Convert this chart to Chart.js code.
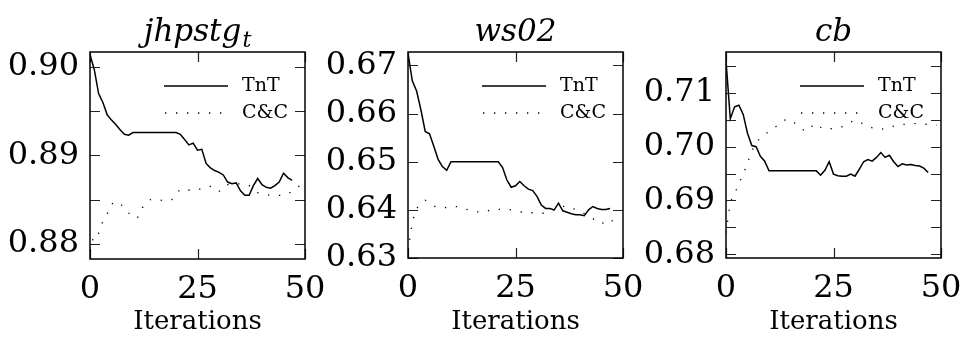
<!DOCTYPE html>
<html>
<head>
<meta charset="utf-8">
<script src="https://cdn.jsdelivr.net/npm/chart.js@4.4.1/dist/chart.umd.min.js"></script>
<style>
  html, body { margin: 0; padding: 0; background: #fff; }
  .panel { position: absolute; top: 0; }
</style>
</head>
<body>
<canvas id="chart-jhpstg" class="panel" width="340" height="342" style="left:0px"></canvas>
<canvas id="chart-ws02" class="panel" width="340" height="342" style="left:320px"></canvas>
<canvas id="chart-cb" class="panel" width="322" height="342" style="left:640px"></canvas>
<script>
const iterations = [
    0, 1, 2, 3, 4, 5, 6, 7, 8, 9,
    10, 11, 12, 13, 14, 15, 16, 17, 18, 19,
    20, 21, 22, 23, 24, 25, 26, 27, 28, 29,
    30, 31, 32, 33, 34, 35, 36, 37, 38, 39,
    40, 41, 42, 43, 44, 45, 46, 47, 48, 49
];
const x_ticks = [0, 25, 50];

const jhpstg_tnt = [
    0.9014, 0.8997, 0.8970, 0.8960, 0.8946, 0.8940, 0.8935, 0.8929, 0.8924, 0.8923,
    0.8926, 0.8926, 0.8926, 0.8926, 0.8926, 0.8926, 0.8926, 0.8926, 0.8926, 0.8926,
    0.8926, 0.8924, 0.8918, 0.8912, 0.8914, 0.8906, 0.8907, 0.8891, 0.8886, 0.8883,
    0.8881, 0.8878, 0.8870, 0.8868, 0.8869, 0.8860, 0.8855, 0.8855, 0.8866, 0.8874,
    0.8867, 0.8864, 0.8863, 0.8866, 0.8870, 0.8880, 0.8875, 0.8872
];
const jhpstg_cc = [
    0.8792, 0.8812, 0.8812, 0.8826, 0.8834, 0.8845, 0.8848, 0.8846, 0.8840, 0.8835,
    0.8832, 0.8829, 0.8840, 0.8846, 0.8850, 0.8851, 0.8850, 0.8849, 0.8849, 0.8850,
    0.8856, 0.8862, 0.8862, 0.8861, 0.8861, 0.8861, 0.8863, 0.8865, 0.8865, 0.8862,
    0.8859, 0.8865, 0.8867, 0.8868, 0.8868, 0.8868, 0.8868, 0.8866, 0.8862, 0.8858,
    0.8857, 0.8856, 0.8855, 0.8855, 0.8855, 0.8855, 0.8856, 0.8860, 0.8864, 0.8866
];
const jhpstg_labels = [0.88, 0.89, 0.90];
const jhpstg_marks = [0.88, 0.885, 0.89, 0.895, 0.90];

const ws02_tnt = [
    0.6725, 0.6668, 0.6647, 0.6608, 0.6563, 0.6558, 0.6532, 0.6505, 0.6490, 0.6482,
    0.6500, 0.6500, 0.6500, 0.6500, 0.6500, 0.6500, 0.6500, 0.6500, 0.6500, 0.6500,
    0.6500, 0.6500, 0.6488, 0.6462, 0.6447, 0.6450, 0.6459, 0.6450, 0.6443, 0.6440,
    0.6428, 0.6410, 0.6403, 0.6403, 0.6400, 0.6414, 0.6398, 0.6395, 0.6392, 0.6390,
    0.6390, 0.6388, 0.6400, 0.6407, 0.6403, 0.6401, 0.6401, 0.6403
];
const ws02_cc = [
    0.6315, 0.6375, 0.6403, 0.6412, 0.6420, 0.6415, 0.6408, 0.6405, 0.6404, 0.6405,
    0.6407, 0.6407, 0.6406, 0.6403, 0.6400, 0.6398, 0.6396, 0.6395, 0.6397, 0.6399,
    0.6401, 0.6401, 0.6401, 0.6401, 0.6400, 0.6398, 0.6396, 0.6395, 0.6394, 0.6394,
    0.6393, 0.6393, 0.6393, 0.6396, 0.6401, 0.6405, 0.6407, 0.6408, 0.6405, 0.6400,
    0.6396, 0.6392, 0.6388, 0.6382, 0.6375, 0.6371, 0.6376, 0.6381, 0.6373, 0.6368
];
const ws02_labels = [0.63, 0.64, 0.65, 0.66, 0.67];
const ws02_marks = [0.63, 0.64, 0.65, 0.66, 0.67];

const cb_tnt = [
    0.7160, 0.7052, 0.7074, 0.7077, 0.7060, 0.7025, 0.7002, 0.7000, 0.6982, 0.6973,
    0.6955, 0.6955, 0.6955, 0.6955, 0.6955, 0.6955, 0.6955, 0.6955, 0.6955, 0.6955,
    0.6955, 0.6955, 0.6947, 0.6956, 0.6972, 0.6949, 0.6946, 0.6945, 0.6945, 0.6949,
    0.6945, 0.6958, 0.6972, 0.6976, 0.6973, 0.6980, 0.6989, 0.6980, 0.6984, 0.6972,
    0.6963, 0.6968, 0.6966, 0.6967, 0.6965, 0.6964, 0.6960, 0.6952
];
const cb_cc = [
    0.6840, 0.6897, 0.6912, 0.6932, 0.6948, 0.6970, 0.6992, 0.7008, 0.7016, 0.7023,
    0.7028, 0.7033, 0.7040, 0.7046, 0.7051, 0.7049, 0.7044, 0.7038, 0.7031, 0.7029,
    0.7038, 0.7043, 0.7036, 0.7032, 0.7033, 0.7034, 0.7035, 0.7037, 0.7041, 0.7046,
    0.7049, 0.7046, 0.7042, 0.7038, 0.7035, 0.7033, 0.7032, 0.7034, 0.7036, 0.7038,
    0.7040, 0.7041, 0.7042, 0.7043, 0.7043, 0.7042, 0.7042, 0.7041, 0.7041, 0.7040
];
const cb_labels = [0.68, 0.69, 0.70, 0.71];
const cb_marks = [0.68, 0.685, 0.69, 0.695, 0.70, 0.705, 0.71, 0.715];

const SERIF = '"DejaVu Serif", serif';
const CC_DASH = [1.3, 9.7];

function points(values) {
    return values.map((v, i) => ({ x: iterations[i], y: v }));
}

// frame, inward ticks on all four sides, legend inside the frame, panel title
const framePlugin = {
    id: 'frame',
    afterDraw(chart, args, opts) {
        const ctx = chart.ctx;
        const a = chart.chartArea;
        const xs = chart.scales.x, ys = chart.scales.y;
        ctx.save();
        ctx.strokeStyle = '#222';
        ctx.lineWidth = 1.2;
        ctx.beginPath();
        opts.marks.forEach(v => {
            const py = Math.round(ys.getPixelForValue(v)) + 0.5;
            ctx.moveTo(a.left, py); ctx.lineTo(a.left + 10, py);
            ctx.moveTo(a.right, py); ctx.lineTo(a.right - 10, py);
        });
        x_ticks.forEach(v => {
            const px = Math.round(xs.getPixelForValue(v)) + 0.5;
            ctx.moveTo(px, a.top); ctx.lineTo(px, a.top + 10);
            ctx.moveTo(px, a.bottom); ctx.lineTo(px, a.bottom - 10);
        });
        ctx.stroke();

        ctx.strokeStyle = '#000';
        ctx.lineWidth = 1.5;
        ctx.strokeRect(a.left, a.top, a.right - a.left, a.bottom - a.top);

        // legend
        ctx.lineWidth = 1.5;
        ctx.beginPath();
        ctx.moveTo(a.left + 74, a.top + 34);
        ctx.lineTo(a.left + 138, a.top + 34);
        ctx.stroke();
        ctx.lineWidth = 1.3;
        ctx.setLineDash(CC_DASH);
        ctx.beginPath();
        ctx.moveTo(a.left + 75, a.top + 61);
        ctx.lineTo(a.left + 138, a.top + 61);
        ctx.stroke();
        ctx.setLineDash([]);
        ctx.fillStyle = '#000';
        ctx.font = '19px ' + SERIF;
        ctx.textBaseline = 'middle';
        ctx.textAlign = 'left';
        ctx.fillText('TnT', a.left + 152, a.top + 34);
        ctx.fillText('C&C', a.left + 152, a.top + 61);

        // title with optional subscript
        ctx.font = 'italic 31px ' + SERIF;
        const mainW = ctx.measureText(opts.title).width;
        ctx.font = 'italic 22px ' + SERIF;
        const subW = opts.sub ? ctx.measureText(opts.sub).width + 1 : 0;
        const cx = (a.left + a.right) / 2;
        const x0 = cx - (mainW + subW) / 2;
        ctx.textBaseline = 'alphabetic';
        ctx.font = 'italic 31px ' + SERIF;
        ctx.fillText(opts.title, x0, 41);
        if (opts.sub) {
            ctx.font = 'italic 22px ' + SERIF;
            ctx.fillText(opts.sub, x0 + mainW + 1, 47);
        }
        ctx.restore();
    }
};

function makeChart(canvasId, title, sub, tnt, cc, yMin, yMax, yLabels, yMarks, leftW, rightPad, bottomH) {
    const context = document.getElementById(canvasId).getContext('2d');
    return new Chart(context, {
        type: 'line',
        plugins: [framePlugin],
        data: {
            datasets: [
                {
                    label: 'TnT',
                    data: points(tnt),
                    borderColor: '#000',
                    borderWidth: 1.5,
                    pointRadius: 0,
                    tension: 0
                },
                {
                    label: 'C&C',
                    data: points(cc),
                    borderColor: '#000',
                    borderWidth: 1.3,
                    borderDash: CC_DASH,
                    pointRadius: 0,
                    tension: 0
                }
            ]
        },
        options: {
            responsive: false,
            animation: false,
            devicePixelRatio: 1,
            layout: {
                padding: { top: 52, right: rightPad, left: 0, bottom: 0 }
            },
            plugins: {
                legend: { display: false },
                tooltip: { enabled: false },
                frame: { title: title, sub: sub, marks: yMarks }
            },
            scales: {
                x: {
                    type: 'linear',
                    min: 0,
                    max: 50,
                    grid: { display: false, drawTicks: false },
                    border: { display: false },
                    afterBuildTicks: scale => {
                        scale.ticks = x_ticks.map(v => ({ value: v }));
                    },
                    afterFit: scale => {
                        scale.height = bottomH;
                        scale.paddingLeft = 0;
                        scale.paddingRight = 0;
                    },
                    ticks: {
                        autoSkip: false,
                        maxRotation: 0,
                        padding: 11,
                        color: '#000',
                        font: { family: SERIF, size: 32 },
                        callback: value => String(value)
                    },
                    title: {
                        display: true,
                        text: 'Iterations',
                        color: '#000',
                        font: { family: SERIF, size: 26 },
                        padding: { top: 0, bottom: 4 }
                    }
                },
                y: {
                    min: yMin,
                    max: yMax,
                    grid: { display: false, drawTicks: false },
                    border: { display: false },
                    afterBuildTicks: scale => {
                        scale.ticks = yLabels.map(v => ({ value: v }));
                    },
                    afterFit: scale => {
                        scale.width = leftW;
                        scale.paddingTop = 0;
                        scale.paddingBottom = 0;
                    },
                    ticks: {
                        autoSkip: false,
                        padding: 11,
                        color: '#000',
                        font: { family: SERIF, size: 32 },
                        callback: value => value.toFixed(2)
                    }
                }
            }
        }
    });
}

var chart_jhpstg = makeChart('chart-jhpstg', 'jhpstg', 't', jhpstg_tnt, jhpstg_cc,
    0.8783, 0.9017, jhpstg_labels, jhpstg_marks, 90, 35, 83);
var chart_ws02 = makeChart('chart-ws02', 'ws02', '', ws02_tnt, ws02_cc,
    0.6300, 0.6728, ws02_labels, ws02_marks, 88, 37, 84);
var chart_cb = makeChart('chart-cb', 'cb', '', cb_tnt, cb_cc,
    0.6793, 0.7176, cb_labels, cb_marks, 86, 21, 84);
</script>
</body>
</html>
